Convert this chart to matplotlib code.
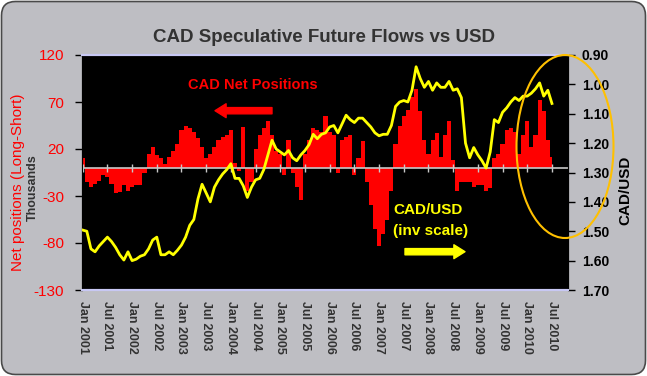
import numpy as np
import matplotlib
matplotlib.use("Agg")
import matplotlib.pyplot as plt
from matplotlib.patches import FancyBboxPatch, Ellipse
from matplotlib.transforms import IdentityTransform

plt.rcParams['font.family'] = ['Liberation Sans', 'DejaVu Sans']

# ---- data (monthly, Jan 2001 .. Jul 2010) ----
net_positions = [10, -15, -20, -17, -14, -8, -10, -17, -27, -26, -18, -25,
                 -20, -18, -18, -5, 15, 22, 14, 10, 4, 12, 18, 25,
                 40, 45, 42, 38, 32, 22, 10, 15, 22, 30, 33, 35,
                 40, 5, -3, 43, -25, -15, 20, 35, 42, 50, 35, 18,
                 15, -8, 30, -5, -20, -34, 15, 30, 42, 40, 38, 55,
                 38, 35, -6, 30, 33, 35, -8, 10, 28, -15, -40, -65,
                 -83, -70, -55, -25, 25, 45, 55, 62, 75, 84, 60, 30,
                 15, 30, 37, 12, 35, 50, 8, -25, -15, -15, -15, -20,
                 -18, -18, -25, -22, 10, 15, 25, 40, 42, 38, 15, 35,
                 50, 22, 35, 72, 60, 30, 12]
cad_usd = [1.496, 1.50, 1.56, 1.57, 1.55, 1.535, 1.52, 1.535, 1.555, 1.58, 1.598, 1.57,
           1.60, 1.595, 1.585, 1.58, 1.56, 1.53, 1.52, 1.58, 1.58, 1.57, 1.58, 1.565,
           1.547, 1.52, 1.48, 1.46, 1.39, 1.34, 1.37, 1.40, 1.35, 1.325, 1.305, 1.29,
           1.27, 1.32, 1.32, 1.345, 1.385, 1.35, 1.325, 1.32, 1.29, 1.24, 1.19, 1.22,
           1.23, 1.24, 1.225, 1.25, 1.26, 1.24, 1.225, 1.205, 1.17, 1.185, 1.17, 1.165,
           1.145, 1.14, 1.165, 1.135, 1.105, 1.12, 1.13, 1.115, 1.115, 1.13, 1.145, 1.165,
           1.175, 1.17, 1.17, 1.14, 1.075, 1.06, 1.055, 1.06, 1.02, 0.94, 0.98, 1.01,
           0.99, 1.02, 0.995, 1.01, 1.01, 0.99, 1.02, 1.015, 1.045, 1.20, 1.25, 1.215,
           1.24, 1.26, 1.285, 1.23, 1.12, 1.13, 1.095, 1.08, 1.06, 1.045, 1.055, 1.04,
           1.04, 1.03, 1.015, 0.995, 1.04, 1.02, 1.065]
tick_labels = [f"{m} {y}" for y in range(2001, 2011) for m in ("Jan", "Jul")]
left_ticks = [120, 70, 20, -30, -80, -130]
right_ticks = [0.90, 1.00, 1.10, 1.20, 1.30, 1.40, 1.50, 1.60, 1.70]

W, H = 647, 376
fig = plt.figure(figsize=(W / 100, H / 100), dpi=100, facecolor='white')

bg = FancyBboxPatch((1.5, 1.5), W - 3, H - 3,
                    boxstyle="round,pad=0,rounding_size=14",
                    transform=IdentityTransform(), facecolor='#bebec3',
                    edgecolor='#4a4a4a', linewidth=1.2, zorder=-10)
fig.add_artist(bg)

L, R, T, B = 82, 568, 55, 290
ax = fig.add_axes([L / W, 1 - B / H, (R - L) / W, (B - T) / H])
ax.set_facecolor('black')

x = np.arange(len(net_positions))
ax.fill_between(x, 0, net_positions, step='mid', color='#ff0000', lw=0, zorder=2)
ax.axhline(0, color='#c8c8c8', lw=1.2, zorder=3)
tick_pos = np.arange(0, len(tick_labels) * 6, 6)
ax.plot(tick_pos, np.zeros(len(tick_pos)), linestyle='none', marker='|',
        ms=6, mew=1, color='#c8c8c8', zorder=3)

ax.set_xlim(-0.17, 117.9)
ax.set_ylim(-130, 120)
ax.set_yticks(left_ticks)
ax.set_yticklabels([str(v) for v in left_ticks])
ax.tick_params(axis='y', colors='black', labelcolor='#ff0000', labelsize=11,
               length=5, width=1, direction='out', pad=8)
ax.set_xticks(tick_pos)
ax.set_xticklabels(tick_labels, rotation=270, fontsize=9, fontweight='bold',
                   color='#333333', ha='center', va='top')
ax.tick_params(axis='x', length=0, pad=8)

ax2 = ax.twinx()
ax2.plot(x, cad_usd, color='#ffff00', lw=2.0, zorder=4)
ax2.set_ylim(1.70, 0.90)
ax2.set_yticks(right_ticks)
ax2.set_yticklabels([f"{v:.2f}" for v in right_ticks], fontweight='bold', fontsize=10)
ax2.tick_params(axis='y', colors='black', length=5, width=1, direction='out', pad=5)

for a in (ax, ax2):
    a.spines['top'].set_color('#c8c8f4')
    a.spines['bottom'].set_color('#c8c8f4')
    a.spines['top'].set_linewidth(1.5)
    a.spines['bottom'].set_linewidth(1.5)
    a.spines['left'].set_color('black')
    a.spines['right'].set_color('black')

def fx(px):
    return px / W

def fy(py):
    return 1 - py / H

fig.text(fx(324), fy(38), "CAD Speculative Future Flows vs USD", ha='center', va='center',
         fontsize=13.5, fontweight='bold', color='#333333')
fig.text(fx(18), fy(182), "Net positions (Long-Short)", rotation=90, ha='center', va='center',
         fontsize=11, color='#ff0000')
fig.text(fx(33), fy(188), "Thousands", rotation=90, ha='center', va='center',
         fontsize=9, fontweight='bold', color='#333333')
fig.text(fx(625), fy(190), "CAD/USD", rotation=90, ha='center', va='center',
         fontsize=11, fontweight='bold', color='black')

fig.text(fx(253), fy(85), "CAD Net Positions", ha='center', va='center',
         fontsize=10.5, fontweight='bold', color='#ff0000')
fig.text(fx(393), fy(210.5), "CAD/USD", ha='left', va='center',
         fontsize=11, fontweight='bold', color='#ffff00')
fig.text(fx(393), fy(231.5), "(inv scale)", ha='left', va='center',
         fontsize=11, fontweight='bold', color='#ffff00')

fig.add_artist(plt.matplotlib.text.Annotation(
    "", xy=(215, H - 110.7), xytext=(272, H - 110.7),
    xycoords='figure pixels', textcoords='figure pixels',
    arrowprops=dict(width=4.5, headwidth=10, headlength=8, color='#ff0000', shrink=0)))
fig.add_artist(plt.matplotlib.text.Annotation(
    "", xy=(465, H - 251.7), xytext=(405, H - 251.7),
    xycoords='figure pixels', textcoords='figure pixels',
    arrowprops=dict(width=4.5, headwidth=10, headlength=8, color='#ffff00', shrink=0)))

ell = Ellipse((565, H - 146.5), 97, 183, transform=IdentityTransform(),
              fill=False, edgecolor='#ffc000', linewidth=1.5, zorder=10)
fig.add_artist(ell)

fig.savefig("out.png", dpi=100, facecolor='white')
